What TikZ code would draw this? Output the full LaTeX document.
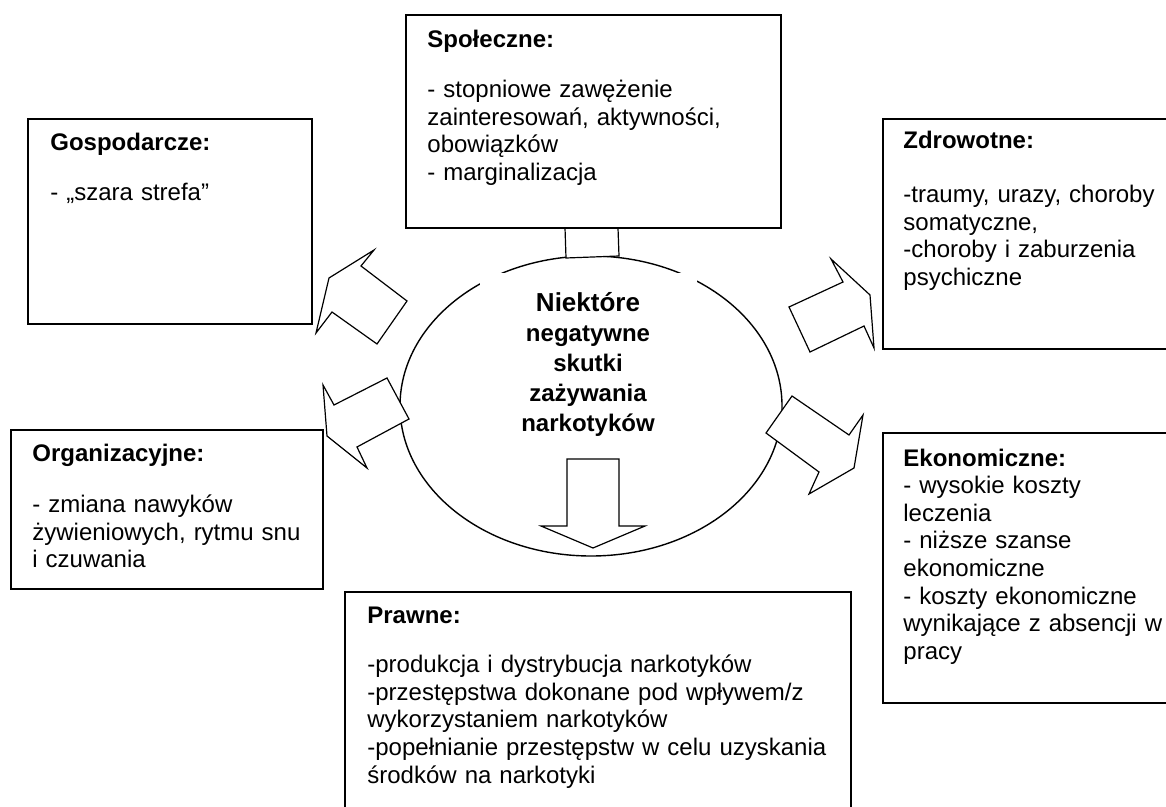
\documentclass[tikz,border=0pt]{standalone}
\usepackage{fontspec}
\setmainfont{Liberation Sans}

\begin{document}
\begin{tikzpicture}[x=0.5pt, y=-0.5pt,
    box/.style={line width=1pt, fill=white},
    blok/.style={line width=0.6pt, fill=white, line join=miter},
    txt/.style={anchor=base west, inner sep=0pt, text width=240pt, align=left, font=\fontsize{12}{13.8}\selectfont},
    core/.style={anchor=base, inner sep=0pt, text width=110pt, align=center, font=\bfseries\fontsize{12}{15}\selectfont}]
    \useasboundingbox (0,0) rectangle (1166,807);
    \fill[white] (0,0) rectangle (1166,807);
    \clip (0,0) rectangle (1166,807);
    \draw[line width=0.7pt] (591,406) ellipse (191 and 150);
    % Teksto fonas uždengia viršutinę elipsės dalį.
    \fill[white] (480,273) rectangle (697,445);
    \node[core] (core) at (588,312) {{\fontsize{13}{15}\selectfont Niektóre}\\ negatywne\\ skutki\\ zażywania\\ narkotyków};
    \draw[blok] (565,228) -- (566,258) -- (619,256) -- (618,228);
    \draw[blok] (374,250) -- (361,266) -- (407,301) -- (377,344) -- (332,312) -- (316,333) -- (329,278) -- cycle;
    \draw[blok] (323,385) -- (334,405) -- (387,378) -- (409,419) -- (357,447) -- (367,468) -- (327,436) -- cycle;
    \draw[blok] (789,307) -- (843,282) -- (831,259) -- (870,295) -- (874,348) -- (864,326) -- (810,352) -- cycle;
    \draw[blok] (792,396) -- (849,435) -- (863,415) -- (854,468) -- (809,494) -- (819,472) -- (766,433) -- cycle;
    \draw[blok] (567,459) -- (619,459) -- (619,526) -- (645,526) -- (593,548) -- (541,526) -- (567,526) -- cycle;
    \draw[box] (406,15) rectangle (781,228); \draw[box] (28,119) rectangle (312,324);
    \draw[box] (11,430) rectangle (323,589); \draw[box] (345,592) rectangle (851,830);
    \draw[box] (883,119) rectangle (1180,349); \draw[box] (883,433) rectangle (1180,703);
    \node[txt] (spol) at (427,48) {\textbf{Społeczne:}\\[11pt] - stopniowe zawężenie\\ zainteresowań, aktywności,\\ obowiązków\\ - marginalizacja};
    \node[txt] (gosp) at (50,151) {\textbf{Gospodarcze:}\\[11pt] - „szara strefa”};
    \node[txt] (org) at (32,461) {\textbf{Organizacyjne:}\\[12pt] - zmiana nawyków\\ żywieniowych, rytmu snu\\ i czuwania};
    \node[txt] (praw) at (367,623) {\textbf{Prawne:}\\[11pt] -produkcja i dystrybucja narkotyków\\ -przestępstwa dokonane pod wpływem/z\\ wykorzystaniem narkotyków\\ -popełnianie przestępstw w celu uzyskania\\ środków na narkotyki};
    \node[txt] (zdro) at (903,149) {\textbf{Zdrowotne:}\\[13pt] -traumy, urazy, choroby\\ somatyczne,\\ -choroby i zaburzenia\\ psychiczne};
    \node[txt] (ekon) at (903,466) {\textbf{Ekonomiczne:}\\ - wysokie koszty\\ leczenia\\ - niższe szanse\\ ekonomiczne\\ - koszty ekonomiczne\\ wynikające z absencji w\\ pracy};
\end{tikzpicture}
\end{document}
